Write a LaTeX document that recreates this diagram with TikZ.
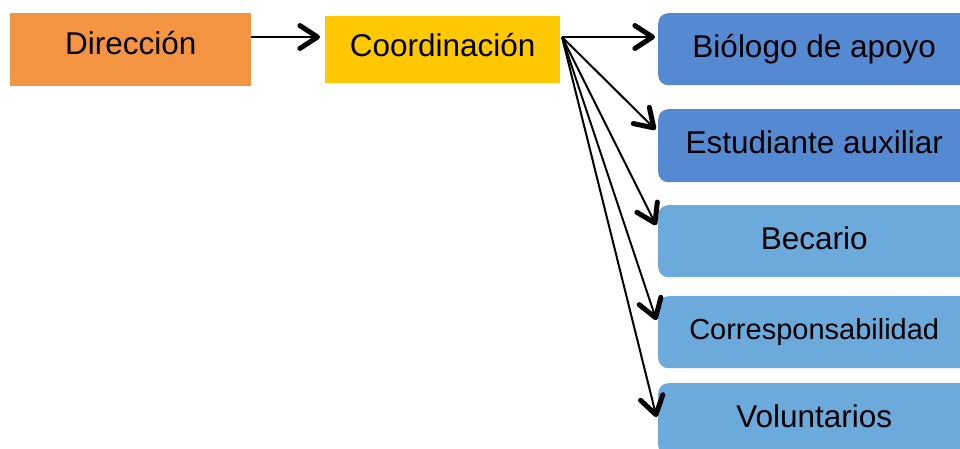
\documentclass[tikz,border=0pt]{standalone}
\usepackage{fontspec}
\setmainfont{Liberation Sans}
\usetikzlibrary{calc}
\definecolor{dirorange}{HTML}{F39443}
\definecolor{coordyellow}{HTML}{FFC800}
\definecolor{bluedark}{HTML}{558AD2}
\definecolor{bluelight}{HTML}{6CAADC}
\begin{document}
\begin{tikzpicture}[x=1pt,y=-1pt,
  box/.style={inner sep=0pt, anchor=north west, draw=none,
    font=\fontsize{31.5}{36}\selectfont, text height=23pt, text depth=7pt},
  rbox/.style={box, rounded corners=10pt, minimum width=312pt, minimum height=72pt},
  conn/.style={line width=2pt},
  chev/.style={line width=5pt, line cap=round, line join=round}]
\clip (0,0) rectangle (960,448);
\node[box, fill=dirorange, minimum width=241pt, minimum height=73pt, text depth=14pt] (dir) at (10,13) {Dirección};
\node[box, fill=coordyellow, minimum width=235pt, minimum height=67pt, text depth=9pt] (coord) at (325,16) {Coordinación};
\node[rbox, fill=bluedark] (bio) at (658,13) {Biólogo de apoyo};
\node[rbox, fill=bluedark, minimum height=73pt] (est) at (658,109) {Estudiante auxiliar};
\node[rbox, fill=bluelight] (bec) at (658,205) {Becario};
\node[rbox, fill=bluelight, font=\fontsize{29}{34}\selectfont, text height=21pt] (cor) at (658,296) {Corresponsabilidad};
\node[rbox, fill=bluelight] (vol) at (658,383) {Voluntarios};
\coordinate (d0) at (251,37);
\coordinate (d1) at (322,37);
\coordinate (s) at (562,37);
\coordinate (t1) at (657,37);
\coordinate (t2) at (657,131);
\coordinate (t3) at (657,227);
\coordinate (t4) at (657,322);
\coordinate (t5) at (657,419);
\coordinate (dv) at ($(d1)!4.5pt!(d0)$);
\draw[conn] (d0) -- (dv);
\draw[chev] ($(dv)!21pt!33:(d0)$) -- (dv) -- ($(dv)!21pt!-33:(d0)$);
\foreach \t in {t1,t2,t3,t4,t5} {
  \coordinate (v) at ($(\t)!4.5pt!(s)$);
  \draw[conn] (s) -- (v);
  \draw[chev] ($(v)!21pt!33:(s)$) -- (v) -- ($(v)!21pt!-33:(s)$);
}
\end{tikzpicture}
\end{document}
